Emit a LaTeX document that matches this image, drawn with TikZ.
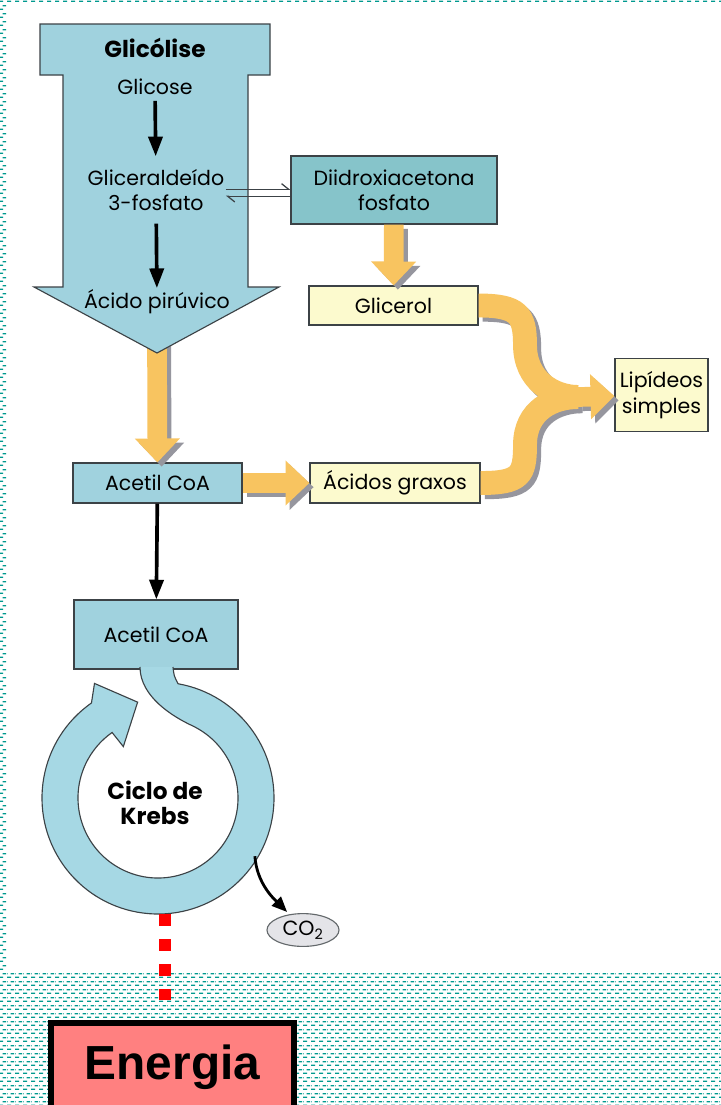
\documentclass[tikz,border=0pt]{standalone}
\usepackage{fontspec}
\usepackage{xcolor}
\usepackage{tikz}
\usetikzlibrary{arrows.meta,positioning,patterns,shapes.geometric}
\newfontfamily\diafont{Poppins}
\newfontfamily\energyfont{Liberation Sans}

\definecolor{boxblue}{RGB}{160,210,222}
\definecolor{ringblue}{RGB}{166,216,228}
\definecolor{dhapblue}{RGB}{134,196,202}
\definecolor{paleyellow}{RGB}{252,250,206}
\definecolor{fatorange}{RGB}{248,196,96}
\definecolor{shadowgray}{RGB}{150,150,158}
\definecolor{edgegray}{RGB}{60,66,70}
\definecolor{co2gray}{RGB}{228,228,232}
\definecolor{energyred}{RGB}{255,128,128}
\definecolor{patternteal}{RGB}{0,153,143}

\pgfdeclarepatternformonly{tealbricks}{\pgfpointorigin}{\pgfpoint{5.69pt}{5.69pt}}{\pgfpoint{5.69pt}{5.69pt}}{%
  \pgfpathrectangle{\pgfpoint{0pt}{0pt}}{\pgfpoint{3.3pt}{1.1pt}}%
  \pgfpathrectangle{\pgfpoint{2.85pt}{2.85pt}}{\pgfpoint{2.84pt}{1.1pt}}%
  \pgfpathrectangle{\pgfpoint{0pt}{2.85pt}}{\pgfpoint{0.46pt}{1.1pt}}%
  \pgfusepath{fill}}

\tikzset{every node/.style={font=\diafont\fontsize{14.6}{18}\selectfont}}

\begin{document}
\begin{tikzpicture}[
  x=0.025cm, y=0.025cm,
  box/.style={draw=edgegray, line width=0.8pt, inner sep=0pt, align=center},
  bluebox/.style={box, fill=boxblue},
  yellowbox/.style={box, fill=paleyellow},
  label/.style={inner sep=1pt, align=center},
  boldlabel/.style={label, font=\diafont\bfseries\fontsize{16.5}{18}\selectfont},
  fatline/.style={line width=17pt},
  fatarrow/.style={line width=14pt, -{Triangle[length=17pt, width=31pt]}},
  blackarrow/.style={draw=black, line width=2.6pt, -{Triangle[length=14pt, width=10pt]}},
  harpoon/.style={draw=edgegray, line width=0.9pt, -{Straight Barb[left, length=5pt, width=8pt]}},
  ring/.style={fill=ringblue, draw=edgegray, line width=0.8pt},
  energylink/.style={draw=red, line width=9pt, dash pattern=on 8.5pt off 9.3pt}
]
\useasboundingbox (0,0) rectangle (721,-1105);
\clip (0,0) rectangle (721,-1105);

% background
\fill[pattern=tealbricks, pattern color=patternteal] (0,0) rectangle (721,-1105);
\fill[white] (7,-5) rectangle (721,-972);

% boxes
\node[bluebox, minimum width=4.225cm, minimum height=1cm] (acetilA) at (157.5,-483) {Acetil CoA};
\node[yellowbox, minimum width=4.25cm, minimum height=1cm] (acidos) at (395,-483) {Ácidos graxos};
\node[yellowbox, minimum width=4.225cm, minimum height=0.975cm] (glicerol) at (393.5,-305.5) {Glicerol};
\node[box, fill=dhapblue, minimum width=5.15cm, minimum height=1.7cm] (dhap) at (394,-190) {Diidroxiacetona\\fosfato};
\node[yellowbox, minimum width=2.325cm, minimum height=1.825cm] (lipid) at (661.5,-395) {Lipídeos\\simples};
\node[bluebox, minimum width=4.1cm, minimum height=1.725cm] (acetilB) at (156,-634.5) {Acetil CoA};
\node[ellipse, draw=edgegray!80, fill=co2gray, line width=0.8pt, minimum width=1.8cm, minimum height=0.82cm, inner sep=0pt] (co2) at (303,-930) {CO\textsubscript{2}};
\node[draw=black, line width=4.3pt, fill=energyred, minimum width=6.075cm, minimum height=2.2cm,
  font=\energyfont\bfseries\fontsize{34}{36}\selectfont] (energia) at (172.5,-1067) {Energia};

% orange paths, shadow pass first
\coordinate (gtip) at (157,-353);
\coordinate (merge) at (578,-397);
\foreach \col/\off in {shadowgray/3pt, fatorange/0pt} {
  \begin{scope}[draw=\col, transform canvas={shift={(\off,-\off)}}]
    \draw[fatarrow] ([yshift=0.3cm]gtip) -- (acetilA);
    \draw[fatarrow] (dhap) -- (glicerol);
    \draw[fatarrow] (acetilA) -- (acidos);
    \draw[fatline] (glicerol.east) .. controls +(40,0) and +(0,30) .. (525,-345)
      .. controls +(0,-35) and +(-25,0) .. (merge);
    \draw[fatline] (acidos.east) .. controls +(40,0) and +(0,-30) .. (525,-445)
      .. controls +(0,35) and +(-25,0) .. (merge);
    \draw[fatarrow] (merge) -- (lipid);
  \end{scope}
}

% glicolise
\draw[fill=boxblue, draw=edgegray, line width=0.8pt] (40,-24) -- (270,-24) -- (270,-75) -- (248,-75)
  -- (248,-287) -- (279,-287) -- (gtip) -- (34,-287) -- (63,-287) -- (63,-75) -- (40,-75) -- cycle;
\node[boldlabel] (glicolise) at (155,-48) {Glicólise};
\node[label] (glicose) at (155,-87) {Glicose};
\node[label] (gap) at (156,-190) {Gliceraldeído\\3-fosfato};
\node[label] (piruvico) at (157,-302) {Ácido pirúvico};
\draw[blackarrow, shorten <=3pt, shorten >=8pt] (glicose) -- (gap);
\draw[blackarrow, shorten <=8pt] (gap) -- (piruvico);
\draw[harpoon] ([yshift=0.5pt]gap.east) -- ([yshift=0.5pt]dhap.west);
\draw[harpoon] ([yshift=-4.5pt]dhap.west) -- ([yshift=-4.5pt]gap.east);
\draw[blackarrow] (acetilA) -- (acetilB);

% krebs
\coordinate (kc) at (158,-798);
\filldraw[ring] (140,-667) .. controls (140,-697) and (173.7,-717) .. ([shift={(65:80)}]kc)
  arc[start angle=65, end angle=-235, radius=80]
  -- ([shift={(124:62)}]kc) -- ([shift={(102:98)}]kc) -- ([shift={(119:131)}]kc)
  -- ([shift={(125:116)}]kc)
  arc[start angle=-235, end angle=80, radius=116]
  .. controls (174,-676) .. (173,-667);
\node[boldlabel] (krebs) at (155,-803) {Ciclo de\\Krebs};
\coordinate (kout) at ([shift={(-31:113)}]kc);
\draw[blackarrow, line width=2pt, -{Triangle[length=11pt, width=9pt]}] (kout) .. controls +(2,-28) and +(-12,12) .. ([shift={(10,6)}]co2.north west);
\coordinate (kbottom) at (165,-914);
\draw[energylink, shorten >=14pt] (kbottom) -- (kbottom |- energia.north);

\end{tikzpicture}
\end{document}
